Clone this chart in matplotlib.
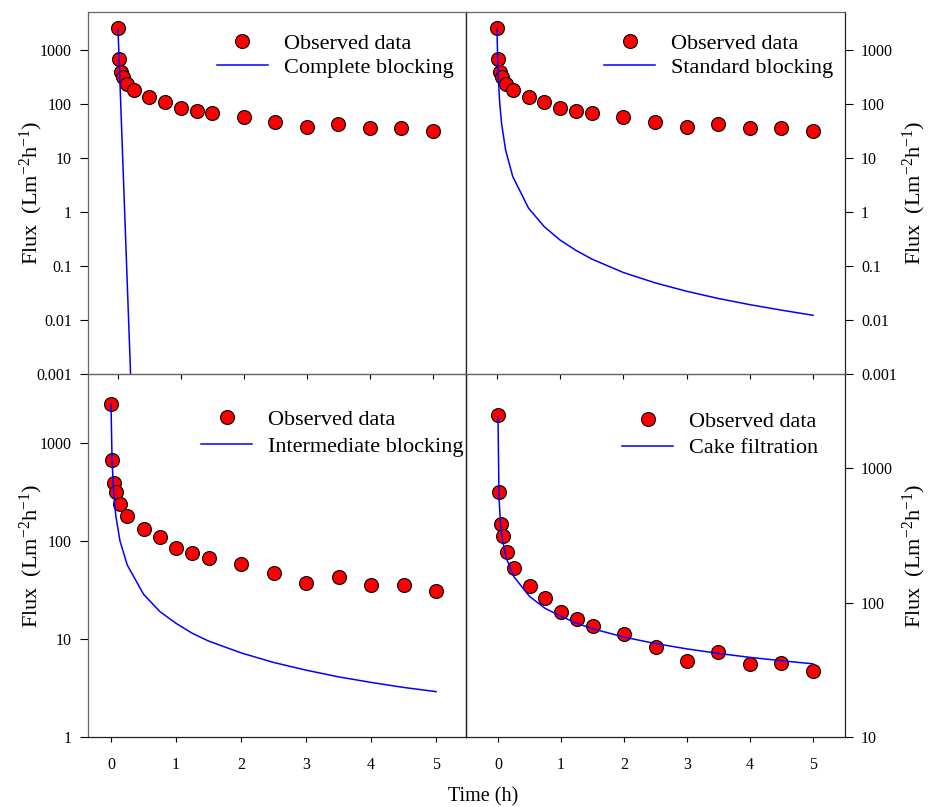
import matplotlib
matplotlib.use('Agg')
import matplotlib.pyplot as plt
from matplotlib.ticker import FixedLocator, FixedFormatter, NullLocator

plt.rcParams['font.family'] = ['Liberation Serif', 'DejaVu Serif']
plt.rcParams['mathtext.fontset'] = 'custom'
plt.rcParams['mathtext.rm'] = 'Liberation Serif'
plt.rcParams['mathtext.it'] = 'Liberation Serif:italic'

# observed flux (same in all four panels)
time_h = [0, 0.016, 0.042, 0.074, 0.137, 0.25, 0.5, 0.75, 1.0, 1.25, 1.5,
          2.0, 2.5, 3.0, 3.5, 4.0, 4.5, 5.0]
flux_obs = [2495, 667, 384, 312, 237, 179, 132, 108, 84.7, 74.8, 66.7,
            58.2, 46.8, 36.8, 42.5, 35.0, 35.3, 30.8]

# model curves
time_complete = [0, 0.016, 0.042, 0.074, 0.137, 0.25]
flux_complete = [2450, 754, 111, 10.5, 0.10, 0.000025]
flux_standard = [2400, 411, 108, 42.1, 13.9, 4.49, 1.17, 0.53, 0.30, 0.194,
                 0.134, 0.0755, 0.0487, 0.0340, 0.0250, 0.0192, 0.0152, 0.0122]
flux_intermediate = [2450, 656, 299, 179, 100, 56.5, 28.5, 19.0, 14.4, 11.4,
                     9.5, 7.2, 5.75, 4.8, 4.1, 3.6, 3.2, 2.9]
flux_cake = [2400, 599, 377, 286, 211, 156, 111, 90.3, 79, 70.0, 63.9,
             55.3, 49.5, 45.2, 41.8, 39.1, 36.9, 35.0]

ticks_x = [0, 1, 2, 3, 4, 5]
ticks_top = [0.001, 0.01, 0.1, 1, 10, 100, 1000]
labels_top = ['0.001', '0.01', '0.1', '1', '10', '100', '1000']
ylabel = r'Flux  (Lm$^{-2}$h$^{-1}$)'

fig = plt.figure(figsize=(9.33, 8.07), dpi=100)
W, H = 933.0, 807.0

def make_axes(x0, x1, y0, y1):
    return fig.add_axes([x0 / W, 1 - y1 / H, (x1 - x0) / W, (y1 - y0) / H])

ax_cb = make_axes(88, 466, 12, 374)
ax_sb = make_axes(466, 845, 12, 374)
ax_ib = make_axes(88, 466, 374, 737)
ax_cf = make_axes(466, 845, 374, 737)

panels = [
    (ax_cb, time_complete, flux_complete, 'Complete blocking', (-0.476, 5.524), (0.001, 5000),
     ticks_top, labels_top, 'left', True, (0.341, 0.94), 0.14),
    (ax_sb, time_h, flux_standard, 'Standard blocking', (-0.49, 5.506), (0.001, 5000),
     ticks_top, labels_top, 'right', True, (0.364, 0.94), 0.14),
    (ax_ib, time_h, flux_intermediate, 'Intermediate blocking', (-0.354, 5.46), (1, 5000),
     [1, 10, 100, 1000], ['1', '10', '100', '1000'], 'left', False, (0.299, 0.903), 0.28),
    (ax_cf, time_h, flux_cake, 'Cake filtration', (-0.508, 5.508), (10, 5000),
     [10, 100, 1000], ['10', '100', '1000'], 'right', False, (0.412, 0.898), 0.28),
]

for ax, tm, fm, name, xl, yl, yt, ylab, side, top, leg_pos, spacing in panels:
    ax.plot(time_h, flux_obs, linestyle='none', marker='o', markersize=10,
            markerfacecolor='#ff0000', markeredgecolor='black', markeredgewidth=0.8,
            label='Observed data')
    ax.plot(tm, fm, color='#0000ff', linewidth=1.1, label=name)
    ax.set_yscale('log')
    ax.set_xlim(*xl)
    ax.set_ylim(*yl)
    ax.yaxis.set_major_locator(FixedLocator(yt))
    ax.yaxis.set_major_formatter(FixedFormatter(ylab))
    ax.yaxis.set_minor_locator(NullLocator())
    ax.xaxis.set_major_locator(FixedLocator(ticks_x))
    ax.xaxis.set_minor_locator(NullLocator())
    ax.tick_params(axis='y', direction='out', length=5.5, width=0.8, pad=6,
                   labelsize=11.5, left=(side == 'left'), labelleft=(side == 'left'),
                   right=(side == 'right'), labelright=(side == 'right'))
    ax.tick_params(axis='x', direction='out', length=3.5, width=0.8, pad=11,
                   labelsize=11.5, top=False, labelbottom=not top)
    for sp in ax.spines.values():
        sp.set_linewidth(0.9)
        sp.set_color('#222222')
    ax.spines['top'].set_color('#666666')
    if top:
        ax.spines['bottom'].set_color('#777777')
    else:
        # let the upper panels' x ticks show through
        ax.patch.set_alpha(0)
    if side == 'left':
        ax.spines['left'].set_color('#666666')
    ax.set_ylabel(ylabel, fontsize=16)
    if side == 'right':
        ax.yaxis.set_label_position('right')
        ax.yaxis.set_label_coords(1.148, 0.5)
    else:
        ax.yaxis.set_label_coords(-0.115, 0.5)
    ax.legend(loc='upper left', bbox_to_anchor=leg_pos, frameon=False, fontsize=16,
              handlelength=2.3, handletextpad=0.7, labelspacing=spacing,
              borderpad=0, borderaxespad=0, numpoints=1)

fig.text(483 / W, 1 - 797 / H, 'Time (h)', fontsize=14.5, ha='center', va='center')

fig.savefig('out.png', dpi=100)
